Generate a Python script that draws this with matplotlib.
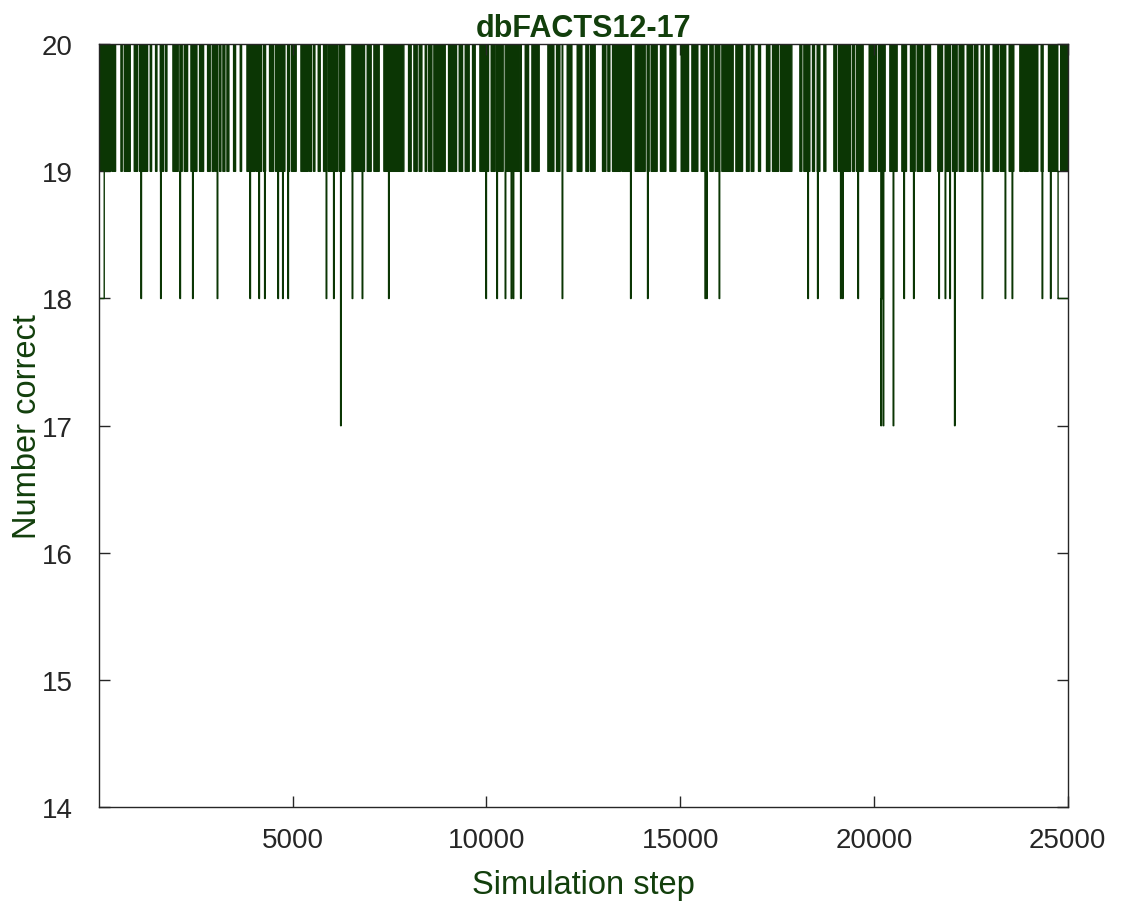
import numpy as np
import matplotlib.pyplot as plt

plt.rcParams['font.family'] = ['Liberation Sans', 'DejaVu Sans']

n_steps = 25000
line_color = '#0b3604'
text_color = '#123f0c'
axis_color = '#262626'

# stretches where the count flickers between 19 and 20 (start, end step)
burst_start = [0, 172, 258, 344, 568, 654, 912, 1049, 1325, 1462, 1583, 1720, 1909, 2099,
               2202, 2374, 2597, 2804, 2924, 3010, 3113, 3199, 3303, 3475, 3647, 3819, 4059,
               4163, 4249, 4403, 4558, 4644, 4765, 4868, 4971, 5212, 5435, 5539, 5659, 5797,
               5917, 6201, 6528, 6923, 7095, 7353, 7990, 8127, 8265, 8420, 8506, 8643, 9022,
               9297, 9452, 9641, 9830, 10122, 10294, 10484, 11000, 11172, 11584, 11808, 12083,
               12341, 12565, 12685, 12995, 13132, 13253, 13494, 13838, 14147, 14250, 14491,
               14732, 15024, 15300, 15540, 15764, 15902, 16074, 16435, 16710, 16830, 17020,
               17226, 17381, 17587, 18086, 18189, 18413, 18533, 18705, 18963, 19084, 19445,
               19548, 19875, 20116, 20408, 20718, 20941, 21113, 21320, 21646, 21853, 22025,
               22197, 22403, 22592, 22764, 22885, 23074, 23263, 23487, 23762, 23865, 24020,
               24312, 24502, 24811]
burst_end = [138, 224, 310, 430, 602, 809, 998, 1256, 1359, 1497, 1669, 1755, 2047, 2150,
             2288, 2529, 2701, 2873, 2976, 3062, 3148, 3251, 3354, 3526, 3681, 4025, 4111,
             4197, 4300, 4507, 4593, 4713, 4799, 4919, 5091, 5401, 5487, 5573, 5711, 5849,
             6158, 6338, 6854, 7026, 7233, 7869, 8058, 8213, 8334, 8454, 8592, 8936, 9228,
             9383, 9555, 9710, 10054, 10226, 10432, 10862, 11086, 11361, 11739, 11894, 12204,
             12462, 12634, 12806, 13081, 13184, 13459, 13700, 14096, 14199, 14405, 14629,
             14887, 15214, 15454, 15695, 15850, 16022, 16366, 16607, 16779, 16899, 17071,
             17312, 17536, 17880, 18138, 18344, 18464, 18602, 18757, 19032, 19393, 19496,
             19720, 20064, 20288, 20597, 20838, 21062, 21251, 21457, 21767, 21956, 22145,
             22317, 22541, 22678, 22816, 22971, 23212, 23366, 23607, 23831, 23986, 24226,
             24364, 24760, 25000]

# short drops below 19
dip18 = [1084, 1592, 2090, 2417, 3052, 3896, 4128, 4275, 4618, 4740, 4876, 5864, 6055,
         6535, 6793, 7474, 9985, 10268, 10483, 10637, 10689, 10880, 11953, 13718, 14156,
         15640, 15680, 16003, 18292, 18543, 19136, 19188, 19584, 20190, 20215, 20770, 21020,
         21672, 21835, 21956, 22789, 23383, 23563, 24337, 24553]
dip17 = [6236, 20176, 20236, 20494, 22077]
start_at_18 = (0, 137)
end_at_18 = (24749, 25000)

steps = np.arange(n_steps + 1)
correct = np.full(n_steps + 1, 20)
in_burst = np.zeros(n_steps + 1, dtype=bool)
for a, b in zip(burst_start, burst_end):
    correct[a:b] = 19
    in_burst[a:b] = True
for s in dip18:
    correct[s:s + 15] = 18
for s in dip17:
    correct[s:s + 15] = 17
correct[start_at_18[0]:start_at_18[1]] = 18
correct[end_at_18[0]:end_at_18[1] + 1] = 18

fig = plt.figure(figsize=(11.24, 9.03), dpi=100)
ax = fig.add_axes([0.088, 0.105, 0.862, 0.845])

ax.fill_between(steps, 19, 20, where=in_burst, step='post', color=line_color, linewidth=0)
ax.step(steps, correct, where='post', color=line_color, linewidth=1.0)

ax.set_xlim(0, 25000)
ax.set_ylim(14, 20)
ax.set_xticks([5000, 10000, 15000, 20000, 25000])
ax.set_yticks([14, 15, 16, 17, 18, 19, 20])

ax.tick_params(direction='in', length=8, width=1.0, top=True, right=True,
               labelsize=20, colors=axis_color)
ax.tick_params(axis='x', pad=14)
ax.tick_params(axis='y', pad=19)
for sp in ax.spines.values():
    sp.set_color(axis_color)
    sp.set_linewidth(1.0)

ax.set_xlabel('Simulation step', fontsize=23.5, color=text_color, labelpad=12)
ax.set_ylabel('Number correct', fontsize=23.5, color=text_color, labelpad=-1)
ax.set_title('dbFACTS12-17', fontsize=22, fontweight='bold', color=text_color, pad=6)

fig.savefig('out.png', dpi=100)
